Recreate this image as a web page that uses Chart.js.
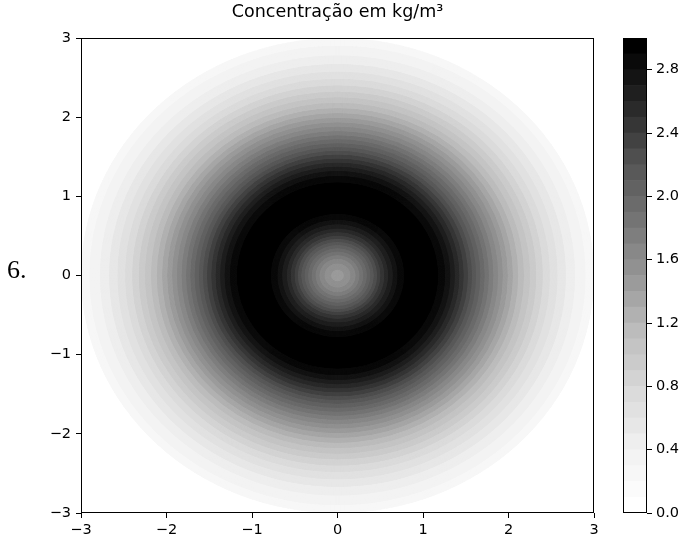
<!DOCTYPE html>
<html>
<head>
<meta charset="utf-8">
<script src="https://cdn.jsdelivr.net/npm/chart.js@4.4.1/dist/chart.umd.min.js"></script>
<style>
  body { margin: 0; background: #fff; }
  #wrap { position: relative; width: 689px; height: 542px; }
  #main { position: absolute; left: 0; top: 0; }
  #cbar { position: absolute; left: 600px; top: 0; }
  #num { position: absolute; left: 7px; top: 255px; font: 26px "Liberation Serif", serif; color: #000; }
</style>
</head>
<body>
<div id="wrap">
  <canvas id="main" width="689" height="542"></canvas>
  <canvas id="cbar" width="89" height="542"></canvas>
  <div id="num">6.</div>
</div>
<script>
// radial profile (r in m, concentration in kg/m3)
const radius = [0.0, 0.1, 0.2, 0.3, 0.4, 0.5, 0.6, 0.7, 0.8, 0.9, 1.0,
                1.1, 1.2, 1.3, 1.4, 1.5, 1.6, 1.7, 1.8, 1.9, 2.0,
                2.1, 2.2, 2.3, 2.4, 2.5, 2.6, 2.7, 2.8, 2.9, 3.0];
const concentration = [1.45, 1.52, 1.68, 1.90, 2.14, 2.40, 2.62, 2.80, 2.93, 2.98, 2.99,
                       2.96, 2.88, 2.74, 2.55, 2.35, 2.14, 1.94, 1.74, 1.56, 1.38,
                       1.22, 1.07, 0.93, 0.80, 0.68, 0.57, 0.47, 0.38, 0.30, 0.23];
// contour levels (as in the colorbar)
const levels = [0.0, 0.1, 0.2, 0.3, 0.4, 0.5, 0.6, 0.7, 0.8, 0.9, 1.0,
                1.1, 1.2, 1.3, 1.4, 1.5, 1.6, 1.7, 1.8, 1.9, 2.0,
                2.1, 2.2, 2.3, 2.4, 2.5, 2.6, 2.7, 2.8, 2.9, 3.0];
const axisTicks = [-3, -2, -1, 0, 1, 2, 3];
const cbarTicks = [0.0, 0.4, 0.8, 1.2, 1.6, 2.0, 2.4, 2.8];

Chart.defaults.font.family = 'DejaVu Sans';
Chart.defaults.font.size = 14.5;
Chart.defaults.color = '#000';

// matplotlib "Greys"
const greys = [255, 240, 217, 189, 150, 115, 82, 37, 0];
function greyColor(t) {
  t = Math.min(1, Math.max(0, t)) * 8;
  const i = Math.min(7, Math.floor(t));
  const g = Math.round(greys[i] + (greys[i + 1] - greys[i]) * (t - i));
  return 'rgb(' + g + ',' + g + ',' + g + ')';
}
const nBands = levels.length - 1;
const bandColors = [];
for (let i = 0; i < nBands; i++) bandColors.push(greyColor(i / (nBands - 1)));

function valueAt(r) {
  for (let i = 0; i < radius.length - 1; i++) {
    if (r <= radius[i + 1]) {
      const f = (r - radius[i]) / (radius[i + 1] - radius[i]);
      return concentration[i] + (concentration[i + 1] - concentration[i]) * f;
    }
  }
  return concentration[concentration.length - 1];
}
function bandOf(v) {
  for (let i = nBands - 1; i >= 0; i--) if (v >= levels[i]) return i;
  return 0;
}

const contourPlugin = {
  id: 'contour',
  beforeDatasetsDraw(chart) {
    const {ctx, chartArea, scales: {x, y}} = chart;
    const cx = x.getPixelForValue(0), cy = y.getPixelForValue(0);
    const rMax = radius[radius.length - 1];
    const N = 1200;
    ctx.save();
    ctx.beginPath();
    ctx.rect(chartArea.left, chartArea.top, chartArea.width, chartArea.height);
    ctx.clip();
    for (let k = N; k >= 1; k--) {
      const r = rMax * k / N;
      const v = valueAt(r - rMax / N / 2);
      ctx.fillStyle = bandColors[bandOf(v)];
      ctx.beginPath();
      ctx.ellipse(cx, cy, x.getPixelForValue(r) - cx, cy - y.getPixelForValue(r), 0, 0, Math.PI * 2);
      ctx.fill();
    }
    ctx.restore();
  }
};

const framePlugin = {
  id: 'frame',
  afterDraw(chart) {
    const {ctx, chartArea} = chart;
    ctx.save();
    ctx.strokeStyle = '#000';
    ctx.lineWidth = 1;
    ctx.strokeRect(Math.round(chartArea.left) + 0.5, Math.round(chartArea.top) + 0.5,
                   Math.round(chartArea.width) - 1, Math.round(chartArea.height) - 1);
    ctx.restore();
  }
};

const minus = v => String(v).replace('-', '\u2212');
const axisGrid = { drawOnChartArea: false, tickLength: 5, color: '#000' };

new Chart(document.getElementById('main'), {
  type: 'scatter',
  data: { datasets: [{ data: [] }] },
  options: {
    responsive: false,
    animation: false,
    layout: { padding: { left: 0, right: 95, top: 0, bottom: 0 } },
    plugins: {
      legend: { display: false },
      tooltip: { enabled: false },
      title: {
        display: true,
        fullSize: false,
        text: 'Concentração em kg/m³',
        font: { size: 17.5, weight: 'normal' },
        padding: { top: 2, bottom: 15 }
      }
    },
    scales: {
      x: {
        type: 'linear', min: -3, max: 3,
        afterBuildTicks: s => { s.ticks = axisTicks.map(v => ({ value: v })); },
        afterFit: s => { s.height = 29; },
        ticks: { padding: 4, maxRotation: 0, callback: minus },
        grid: axisGrid,
        border: { display: false }
      },
      y: {
        type: 'linear', min: -3, max: 3,
        afterBuildTicks: s => { s.ticks = axisTicks.map(v => ({ value: v })); },
        afterFit: s => { s.width = 81; },
        ticks: { padding: 5, callback: minus },
        grid: axisGrid,
        border: { display: false }
      }
    }
  },
  plugins: [contourPlugin, framePlugin]
});

// colorbar as a stacked bar
const cbarSets = [];
for (let i = 0; i < nBands; i++) {
  cbarSets.push({
    data: [levels[i + 1] - levels[i]],
    backgroundColor: bandColors[i],
    borderWidth: 0,
    barPercentage: 1,
    categoryPercentage: 1,
    stack: 'c'
  });
}
new Chart(document.getElementById('cbar'), {
  type: 'bar',
  data: { labels: [''], datasets: cbarSets },
  options: {
    responsive: false,
    animation: false,
    layout: { padding: { left: 23, right: 0, top: 38, bottom: 29 } },
    plugins: { legend: { display: false }, tooltip: { enabled: false } },
    scales: {
      x: { display: false, stacked: true },
      y: {
        stacked: true, min: 0, max: 3, position: 'right',
        afterBuildTicks: s => { s.ticks = cbarTicks.map(v => ({ value: v })); },
        afterFit: s => { s.width = 42; },
        ticks: { padding: 4, callback: v => v.toFixed(1) },
        grid: axisGrid,
        border: { display: false }
      }
    }
  },
  plugins: [framePlugin]
});
</script>
</body>
</html>
